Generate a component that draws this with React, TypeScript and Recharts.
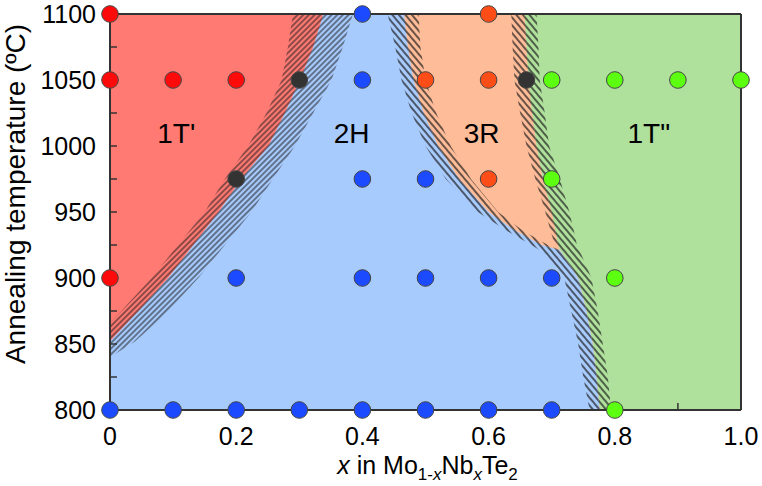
import React from 'react';
import { ComposedChart, Area, Scatter, XAxis, YAxis, ReferenceDot, Label } from 'recharts';

const FONT = '"Liberation Sans", Arial, sans-serif';
const AXIS = '#333333';

// axis ticks
const xTicks = [0, 0.1, 0.2, 0.3, 0.4, 0.5, 0.6, 0.7, 0.8, 0.9, 1.0];
const xTickLabels = ['0', '', '0.2', '', '0.4', '', '0.6', '', '0.8', '', '1.0'];
const yTicks = [800, 825, 850, 875, 900, 925, 950, 975, 1000, 1025, 1050, 1075, 1100];
const yTickLabels = ['800', '', '850', '', '900', '', '950', '', '1000', '', '1050', '', '1100'];

// whole plot (1T'' background)
const fullT = [800, 1100];
const fullX = [1, 1];

// 1T' / 2H boundary
const leftT = [1100, 1075, 1050, 1025, 1000, 975, 950, 925, 900, 875, 866, 852, 840, 800];
const leftRedEdge = [0.29, 0.282, 0.272, 0.248, 0.219, 0.182, 0.15, 0.108, 0.066, 0.018, 0, 0, 0, 0];
const leftMidEdge = [0.338, 0.322, 0.301, 0.277, 0.251, 0.208, 0.172, 0.132, 0.092, 0.045, 0.027, 0, 0, 0];
const leftBlueEdge = [0.385, 0.369, 0.351, 0.322, 0.293, 0.258, 0.224, 0.182, 0.14, 0.092, 0.072, 0.04, 0, 0];

// 2H / 3R / 1T'' boundaries
const rightT = [1100, 1075, 1050, 1025, 1000, 975, 950, 936, 925, 921, 900, 875, 850, 825, 800];
const blueEdge = [0.44, 0.452, 0.462, 0.478, 0.5, 0.532, 0.583, 0.628, 0.668, 0.681, 0.72, 0.731, 0.742, 0.75, 0.76];
const blueMidEdge = [0.466, 0.472, 0.481, 0.497, 0.52, 0.553, 0.6, 0.642, 0.684, 0.713, 0.742, 0.755, 0.765, 0.771, 0.776];
const orangeLowEdge = [0.489, 0.492, 0.5, 0.517, 0.54, 0.572, 0.615, 0.654, 0.694, 0.713, 0.742, 0.755, 0.765, 0.771, 0.776];
const orangeHighEdge = [0.636, 0.638, 0.641, 0.65, 0.66, 0.674, 0.69, 0.698, 0.705, 0.713, 0.742, 0.755, 0.765, 0.771, 0.776];
const greenMidEdge = [0.657, 0.66, 0.663, 0.669, 0.676, 0.686, 0.7, 0.706, 0.71, 0.713, 0.742, 0.755, 0.765, 0.771, 0.776];
const greenEdge = [0.676, 0.679, 0.681, 0.689, 0.696, 0.713, 0.728, 0.735, 0.74, 0.744, 0.763, 0.773, 0.781, 0.789, 0.794];

// samples
const redX = [0, 0, 0.1, 0.2, 0];
const redT = [1100, 1050, 1050, 1050, 900];
const blueX = [0.4, 0.4, 0.4, 0.5, 0.2, 0.4, 0.5, 0.6, 0.7, 0, 0.1, 0.2, 0.3, 0.4, 0.5, 0.6, 0.7];
const blueT = [1100, 1050, 975, 975, 900, 900, 900, 900, 900, 800, 800, 800, 800, 800, 800, 800, 800];
const orangeX = [0.6, 0.5, 0.6, 0.6];
const orangeT = [1100, 1050, 1050, 975];
const greenX = [0.7, 0.8, 0.9, 1.0, 0.7, 0.8, 0.8];
const greenT = [1050, 1050, 1050, 1050, 975, 900, 800];
const blackX = [0.3, 0.66, 0.2];
const blackT = [1050, 1050, 975];

// phase labels
const phaseNames = ["1T'", '2H', '3R', '1T"'];
const phaseX = [0.105, 0.383, 0.589, 0.854];
const phaseT = [1010, 1010, 1010, 1010];

const rows = (ts: number[], xs: number[]) => ts.map((T, i) => ({ T, x: xs[i] }));

const C = {
  red: '#FF7A73',
  blue: '#A8CBFE',
  orange: '#FFBC98',
  green: '#AFE19D',
  dotRed: '#FF0A0A',
  dotBlue: '#1C4BFF',
  dotOrange: '#FF4D18',
  dotGreen: '#5DFF10',
  dotBlack: '#333333',
};

const dot = (fill: string) => (props: any) => (
  <circle cx={props.cx} cy={props.cy} r={8.3} fill={fill} stroke="#444" strokeWidth={1} />
);

const fmt = (ticks: number[], labels: string[]) => (v: number) => {
  const i = ticks.findIndex((t) => Math.abs(t - v) < 1e-6);
  return i >= 0 ? labels[i] : '';
};

const layer = (key: string, ts: number[], xs: number[], fill: string) => (
  <Area
    key={key}
    data={rows(ts, xs)}
    dataKey="x"
    type="linear"
    fill={fill}
    fillOpacity={1}
    stroke="none"
    dot={false}
    activeDot={false}
    isAnimationActive={false}
  />
);

export default function App() {
  return (
    <div style={{ width: 762, height: 486 }}>
      <style>{'body{margin:0}'}</style>
      <ComposedChart
        width={762}
        height={486}
        layout="vertical"
        margin={{ top: 14, right: 21, bottom: 0, left: 0 }}
      >
        <defs>
          <pattern id="hatchL" width="4" height="4" patternUnits="userSpaceOnUse" patternTransform="rotate(45)">
            <line x1="1" y1="0" x2="1" y2="4" stroke="#1a1a1a" strokeWidth="1" />
          </pattern>
          <pattern id="hatchR" width="5" height="5" patternUnits="userSpaceOnUse" patternTransform="rotate(-40)">
            <line x1="1" y1="0" x2="1" y2="5" stroke="#1a1a1a" strokeWidth="1.3" />
          </pattern>
        </defs>

        {layer('green', fullT, fullX, C.green)}
        {layer('greenHatch', rightT, greenEdge, 'url(#hatchR)')}
        {layer('orangeBase', rightT, greenMidEdge, C.orange)}
        {layer('orangeHatchR', rightT, greenMidEdge, 'url(#hatchR)')}
        {layer('orangeSolid', rightT, orangeHighEdge, C.orange)}
        {layer('orangeHatchL', rightT, orangeLowEdge, 'url(#hatchR)')}
        {layer('blueBase', rightT, blueMidEdge, C.blue)}
        {layer('blueHatchR', rightT, blueMidEdge, 'url(#hatchR)')}
        {layer('blueSolid', rightT, blueEdge, C.blue)}
        {layer('blueHatchL', leftT, leftBlueEdge, 'url(#hatchL)')}
        {layer('redBase', leftT, leftMidEdge, C.red)}
        {layer('redHatch', leftT, leftMidEdge, 'url(#hatchL)')}
        {layer('redSolid', leftT, leftRedEdge, C.red)}

        <XAxis
          type="number"
          domain={[0, 1]}
          ticks={xTicks}
          interval={0}
          tickFormatter={fmt(xTicks, xTickLabels)}
          tickSize={-7}
          tickMargin={24}
          height={76}
          axisLine={{ stroke: AXIS, strokeWidth: 2 }}
          tickLine={{ stroke: AXIS, strokeWidth: 1.5 }}
          tick={{ fill: '#000', fontSize: 25, fontFamily: FONT }}
        >
          <Label
            content={(p: any) => {
              const vb = p.viewBox;
              const cx = vb.x + vb.width / 2;
              return (
                <text x={cx + 2} y={vb.y + 64} textAnchor="middle" fontSize={25} fontFamily={FONT} fill="#000">
                  <tspan fontStyle="italic">x</tspan>
                  <tspan> in Mo</tspan>
                  <tspan fontSize={17} dy={6}>1-</tspan>
                  <tspan fontSize={17} fontStyle="italic">x</tspan>
                  <tspan dy={-6}>Nb</tspan>
                  <tspan fontSize={17} dy={6} fontStyle="italic">x</tspan>
                  <tspan dy={-6}>Te</tspan>
                  <tspan fontSize={17} dy={6}>2</tspan>
                </text>
              );
            }}
          />
        </XAxis>
        <XAxis
          xAxisId="top"
          orientation="top"
          type="number"
          domain={[0, 1]}
          ticks={xTicks}
          interval={0}
          mirror
          tick={false}
          tickSize={7}
          axisLine={{ stroke: AXIS, strokeWidth: 2 }}
          tickLine={{ stroke: AXIS, strokeWidth: 1.5 }}
        />
        <YAxis
          type="number"
          dataKey="T"
          reversed
          domain={[800, 1100]}
          ticks={yTicks}
          interval={0}
          tickFormatter={fmt(yTicks, yTickLabels)}
          tickSize={-7}
          tickMargin={21}
          width={110}
          axisLine={{ stroke: AXIS, strokeWidth: 2 }}
          tickLine={{ stroke: AXIS, strokeWidth: 1.5 }}
          tick={{ fill: '#000', fontSize: 25, fontFamily: FONT }}
        >
          <Label
            content={() => (
              <text
                x={25}
                y={194}
                transform="rotate(-90, 25, 194)"
                textAnchor="middle"
                fontSize={28}
                fontFamily={FONT}
                fill="#000"
              >
                Annealing temperature (ºC)
              </text>
            )}
          />
        </YAxis>
        <YAxis
          yAxisId="right"
          orientation="right"
          type="number"
          reversed
          domain={[800, 1100]}
          ticks={yTicks}
          interval={0}
          mirror
          tick={false}
          tickSize={7}
          axisLine={{ stroke: AXIS, strokeWidth: 2 }}
          tickLine={{ stroke: AXIS, strokeWidth: 1.5 }}
        />

        <Scatter data={rows(blueT, blueX)} dataKey="x" shape={dot(C.dotBlue)} isAnimationActive={false} />
        <Scatter data={rows(redT, redX)} dataKey="x" shape={dot(C.dotRed)} isAnimationActive={false} />
        <Scatter data={rows(orangeT, orangeX)} dataKey="x" shape={dot(C.dotOrange)} isAnimationActive={false} />
        <Scatter data={rows(greenT, greenX)} dataKey="x" shape={dot(C.dotGreen)} isAnimationActive={false} />
        <Scatter data={rows(blackT, blackX)} dataKey="x" shape={dot(C.dotBlack)} isAnimationActive={false} />

        {phaseNames.map((name, i) => (
          <ReferenceDot
            key={name}
            x={phaseX[i]}
            y={phaseT[i]}
            r={1}
            fill="none"
            stroke="none"
            label={{ value: name, position: 'center', fontSize: 28, fontFamily: FONT, fill: '#000' }}
          />
        ))}
      </ComposedChart>
    </div>
  );
}
